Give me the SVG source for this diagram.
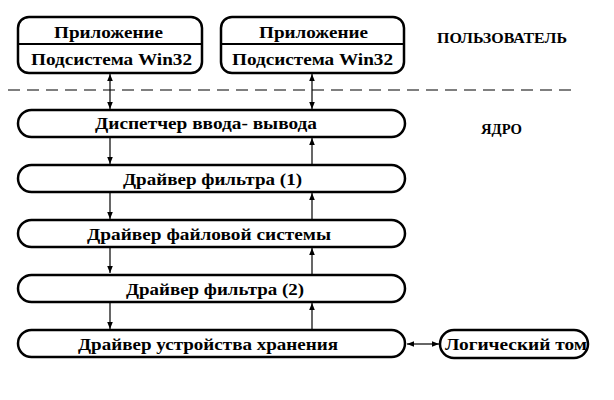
<svg xmlns="http://www.w3.org/2000/svg" width="614" height="400" viewBox="0 0 614 400">
<defs>
<style>
.box{fill:#fff;stroke:#000;stroke-width:2.5}
.t{font-family:"Liberation Serif","Times New Roman",serif;font-weight:bold;font-size:17.5px;fill:#000;text-anchor:middle}
.lbl{font-family:"Liberation Serif","Times New Roman",serif;font-weight:bold;font-size:14px;fill:#000}
.c{stroke:#000;stroke-width:1.2;fill:none}
</style>
<marker id="ah" viewBox="0 0 10 10" refX="10" refY="5" markerWidth="7" markerHeight="9" markerUnits="userSpaceOnUse" orient="auto-start-reverse">
<path d="M0,1 L10,5 L0,9 Z" fill="#000"/>
</marker>
</defs>
<rect width="614" height="400" fill="#fff"/>
<g id="connectors">
<line class="c" x1="8" y1="90" x2="574" y2="90" stroke-dasharray="12 7" stroke-width="1.4"/>
<line class="c" x1="110" y1="74" x2="110" y2="109" marker-start="url(#ah)" marker-end="url(#ah)"/>
<line class="c" x1="312" y1="74" x2="312" y2="109" marker-start="url(#ah)" marker-end="url(#ah)"/>
<line class="c" x1="110" y1="137" x2="110" y2="164" marker-end="url(#ah)"/>
<line class="c" x1="110" y1="192" x2="110" y2="219" marker-end="url(#ah)"/>
<line class="c" x1="110" y1="247" x2="110" y2="273" marker-end="url(#ah)"/>
<line class="c" x1="110" y1="302" x2="110" y2="329" marker-end="url(#ah)"/>
<line class="c" x1="312" y1="165" x2="312" y2="138" marker-end="url(#ah)"/>
<line class="c" x1="312" y1="220" x2="312" y2="193" marker-end="url(#ah)"/>
<line class="c" x1="312" y1="275" x2="312" y2="248" marker-end="url(#ah)"/>
<line class="c" x1="312" y1="330" x2="312" y2="303" marker-end="url(#ah)"/>
<line class="c" x1="407" y1="344" x2="439" y2="344" marker-start="url(#ah)" marker-end="url(#ah)"/>
</g>
<g id="app1">
<rect class="box" x="18" y="17" width="184" height="56" rx="11"/>
<line x1="18" y1="44" x2="202" y2="44" stroke="#000" stroke-width="2"/>
<text class="t" x="108.5" y="38" textLength="109" lengthAdjust="spacingAndGlyphs">Приложение</text>
<text class="t" x="111.5" y="65" textLength="161" lengthAdjust="spacingAndGlyphs">Подсистема Win32</text>
</g>
<g id="app2">
<rect class="box" x="221" y="17" width="183" height="56" rx="11"/>
<line x1="221" y1="44" x2="404" y2="44" stroke="#000" stroke-width="2"/>
<text class="t" x="313.5" y="38" textLength="109" lengthAdjust="spacingAndGlyphs">Приложение</text>
<text class="t" x="312.5" y="65" textLength="161" lengthAdjust="spacingAndGlyphs">Подсистема Win32</text>
</g>
<g id="user-label"><text class="lbl" x="437" y="43" textLength="130" lengthAdjust="spacingAndGlyphs">ПОЛЬЗОВАТЕЛЬ</text></g>
<g id="kernel-label"><text class="lbl" x="481" y="134" textLength="41" lengthAdjust="spacingAndGlyphs">ЯДРО</text></g>
<g id="iomgr">
<rect class="box" x="18" y="110" width="387" height="27" rx="13.5"/>
<text class="t" x="206" y="128.5" textLength="222" lengthAdjust="spacingAndGlyphs">Диспетчер ввода- вывода</text>
</g>
<g id="filter1">
<rect class="box" x="18" y="165" width="387" height="27" rx="13.5"/>
<text class="t" x="212.5" y="185" textLength="179" lengthAdjust="spacingAndGlyphs">Драйвер фильтра (1)</text>
</g>
<g id="fsdriver">
<rect class="box" x="18" y="220" width="387" height="27" rx="13.5"/>
<text class="t" x="209" y="239.5" textLength="244" lengthAdjust="spacingAndGlyphs">Драйвер файловой системы</text>
</g>
<g id="filter2">
<rect class="box" x="18" y="275" width="387" height="27" rx="13.5"/>
<text class="t" x="215" y="295" textLength="178" lengthAdjust="spacingAndGlyphs">Драйвер фильтра (2)</text>
</g>
<g id="storage">
<rect class="box" x="18" y="330" width="387" height="27" rx="13.5"/>
<text class="t" x="208" y="350" textLength="260" lengthAdjust="spacingAndGlyphs">Драйвер устройства хранения</text>
</g>
<g id="volume">
<rect class="box" x="440" y="330" width="148" height="28" rx="14"/>
<text class="t" x="516" y="349.5" textLength="142" lengthAdjust="spacingAndGlyphs">Логический том</text>
</g>
</svg>
